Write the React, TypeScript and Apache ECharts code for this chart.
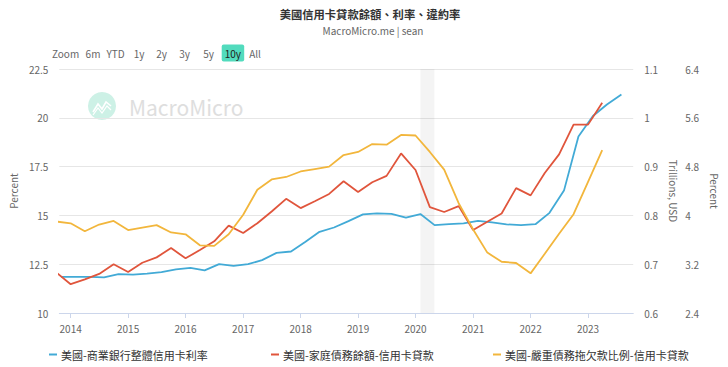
import React, { useEffect, useRef } from "react";
import * as echarts from "echarts";

const TITLE = "美國信用卡貸款餘額、利率、違約率";
const SUBTITLE = "MacroMicro.me | sean";
const WATERMARK = "MacroMicro";
const ZOOM_LABEL = "Zoom";
const RANGE_BUTTONS = ["6m", "YTD", "1y", "2y", "3y", "5y", "10y", "All"];
const SELECTED_RANGE = "10y";

const SERIES_NAMES = [
  "美國-商業銀行整體信用卡利率",
  "美國-家庭債務餘額-信用卡貸款",
  "美國-嚴重債務拖欠款比例-信用卡貸款",
];
const AXIS_NAMES = ["Percent", "Trillions, USD", "Percent"];

// Commercial bank credit card interest rate (%), Feb/May/Aug/Nov
const rateDates = [
  "2013-11-01",
  "2014-02-01", "2014-05-01", "2014-08-01", "2014-11-01",
  "2015-02-01", "2015-05-01", "2015-08-01", "2015-11-01",
  "2016-02-01", "2016-05-01", "2016-08-01", "2016-11-01",
  "2017-02-01", "2017-05-01", "2017-08-01", "2017-11-01",
  "2018-02-01", "2018-05-01", "2018-08-01", "2018-11-01",
  "2019-02-01", "2019-05-01", "2019-08-01", "2019-11-01",
  "2020-02-01", "2020-05-01", "2020-08-01", "2020-11-01",
  "2021-02-01", "2021-05-01", "2021-08-01", "2021-11-01",
  "2022-02-01", "2022-05-01", "2022-08-01", "2022-11-01",
  "2023-02-01", "2023-05-01", "2023-08-01",
];
const rateValues = [
  11.85,
  11.85, 11.85, 11.82, 11.99,
  11.97, 12.02, 12.09, 12.23,
  12.31, 12.18, 12.5, 12.41,
  12.5, 12.71, 13.08, 13.15,
  13.65, 14.16, 14.38, 14.71,
  15.05, 15.1, 15.08, 14.88,
  15.07, 14.5, 14.55, 14.59,
  14.72, 14.64, 14.54, 14.5,
  14.55, 15.13, 16.27, 19.04,
  20.09, 20.68, 21.19,
];

// Household debt: credit card balance (trillions USD) and serious delinquency (%), quarterly
const quarterDates = [
  "2013-10-01",
  "2014-01-01", "2014-04-01", "2014-07-01", "2014-10-01",
  "2015-01-01", "2015-04-01", "2015-07-01", "2015-10-01",
  "2016-01-01", "2016-04-01", "2016-07-01", "2016-10-01",
  "2017-01-01", "2017-04-01", "2017-07-01", "2017-10-01",
  "2018-01-01", "2018-04-01", "2018-07-01", "2018-10-01",
  "2019-01-01", "2019-04-01", "2019-07-01", "2019-10-01",
  "2020-01-01", "2020-04-01", "2020-07-01", "2020-10-01",
  "2021-01-01", "2021-04-01", "2021-07-01", "2021-10-01",
  "2022-01-01", "2022-04-01", "2022-07-01", "2022-10-01",
  "2023-01-01", "2023-04-01",
];
const balanceValues = [
  0.683,
  0.659, 0.669, 0.68, 0.7,
  0.684, 0.703, 0.714, 0.733,
  0.712, 0.729, 0.747, 0.779,
  0.764, 0.784, 0.808, 0.834,
  0.815, 0.829, 0.844, 0.87,
  0.848, 0.868, 0.881, 0.927,
  0.893, 0.817, 0.807, 0.819,
  0.77, 0.787, 0.804, 0.856,
  0.841, 0.887, 0.925, 0.986,
  0.986, 1.031,
];
const delinquencyValues = [
  3.9,
  3.87, 3.74, 3.85, 3.91,
  3.76, 3.8, 3.84, 3.72,
  3.69, 3.51, 3.5, 3.69,
  4.01, 4.42, 4.59, 4.63,
  4.72, 4.76, 4.8, 4.99,
  5.04, 5.17, 5.16, 5.32,
  5.31, 5.04, 4.75, 4.2,
  3.77, 3.39, 3.24, 3.22,
  3.05, 3.37, 3.7, 4.02,
  4.55, 5.07,
];

const recessionRange = ["2020-02-01", "2020-04-30"];
const xRange = ["2013-10-21", "2023-10-15"];
const leftAxis = { min: 10, max: 22.5, interval: 2.5 };
const balanceAxis = { min: 0.6, max: 1.1, interval: 0.1 };
const delinquencyAxis = { min: 2.4, max: 6.4, interval: 0.8 };

const COLORS = ["#42aad6", "#e0553c", "#f2b63c"];
const FONT = '"Noto Sans CJK TC", "Noto Sans", sans-serif';

function pair(dates: string[], values: number[]) {
  return dates.map((d, i) => [d, values[i]]);
}

export default function App() {
  const ref = useRef<HTMLDivElement>(null);
  useEffect(() => {
    const chart = echarts.init(ref.current!, null, { renderer: "svg" });
    const buttonX = [93, 115.5, 139, 161.5, 184.7, 208.5, 232.8, 255];
    const graphics: any[] = [
      {
        type: "text",
        x: 370,
        y: 14,
        style: { text: TITLE, fill: "#333", font: `bold 11.3px ${FONT}`, textAlign: "center", textVerticalAlign: "middle" },
      },
      {
        type: "text",
        x: 373,
        y: 30.5,
        style: { text: SUBTITLE, fill: "#666", font: `10px ${FONT}`, textAlign: "center", textVerticalAlign: "middle" },
      },
      {
        type: "text",
        x: 52,
        y: 53,
        style: { text: ZOOM_LABEL, fill: "#666", font: `10px ${FONT}`, textAlign: "left", textVerticalAlign: "middle" },
      },
      {
        type: "circle",
        shape: { cx: 102, cy: 106, r: 14 },
        style: { fill: "#cdf1e6" },
        silent: true,
        z: 0,
      },
      {
        type: "polyline",
        shape: { points: [[93, 112], [98, 104], [102, 109], [106, 102], [111, 106]] },
        style: { stroke: "#ffffff", lineWidth: 1.6, fill: null },
        silent: true,
        z: 1,
      },
      {
        type: "polyline",
        shape: { points: [[93, 115], [98, 108], [102, 113], [107, 106], [111, 110]] },
        style: { stroke: "#ffffff", lineWidth: 1.2, fill: null },
        silent: true,
        z: 1,
      },
      {
        type: "text",
        x: 129,
        y: 107,
        style: { text: WATERMARK, fill: "#dedede", font: `21px ${FONT}`, textAlign: "left", textVerticalAlign: "middle" },
        silent: true,
        z: 0,
      },
    ];
    RANGE_BUTTONS.forEach((label, i) => {
      const selected = label === SELECTED_RANGE;
      if (selected) {
        graphics.push({
          type: "rect",
          shape: { x: 221.7, y: 44.5, width: 22.5, height: 17, r: 2 },
          style: { fill: "#52dbbd" },
        });
      }
      graphics.push({
        type: "text",
        x: buttonX[i],
        y: 53,
        style: {
          text: label,
          fill: selected ? "#222" : "#666",
          font: `10px ${FONT}`,
          textAlign: "center",
          textVerticalAlign: "middle",
        },
      });
    });

    const axisLabelStyle = { color: "#666", fontSize: 10, fontFamily: FONT };
    const nameStyle = { color: "#666", fontSize: 10, fontFamily: FONT };

    const legendItem = (name: string, left: number) => ({
      data: [name],
      left,
      top: 349,
      padding: 0,
      icon: "rect",
      itemWidth: 8,
      itemHeight: 2,
      itemGap: 0,
      selectedMode: false,
      textStyle: { color: "#333", fontSize: 11, fontFamily: FONT, padding: [0, 0, 0, -1] },
    });

    chart.setOption({
      animation: false,
      backgroundColor: "#fff",
      textStyle: { fontFamily: FONT },
      grid: { left: 52, right: 84, top: 69, bottom: 54, containLabel: false },
      graphic: graphics,
      legend: [
        legendItem(SERIES_NAMES[0], 49),
        legendItem(SERIES_NAMES[1], 271),
        legendItem(SERIES_NAMES[2], 493),
      ],
      xAxis: {
        type: "time",
        min: xRange[0],
        max: xRange[1],
        minInterval: 365 * 24 * 3600 * 1000,
        maxInterval: 366 * 24 * 3600 * 1000,
        axisLine: { lineStyle: { color: "#ccd6eb" } },
        axisTick: { show: true, length: 5, lineStyle: { color: "#ccd6eb" } },
        axisLabel: {
          ...axisLabelStyle,
          margin: 10,
          showMinLabel: false,
          showMaxLabel: false,
          formatter: (v: number) => String(new Date(v).getFullYear()),
        },
        splitLine: { show: false },
      },
      yAxis: [
        {
          type: "value",
          position: "left",
          ...leftAxis,
          name: AXIS_NAMES[0],
          nameLocation: "middle",
          nameGap: 33,
          nameRotate: 90,
          nameTextStyle: nameStyle,
          axisLine: { show: false },
          axisTick: { show: false },
          axisLabel: { ...axisLabelStyle, margin: 11 },
          splitLine: { lineStyle: { color: "#e6e6e6" } },
        },
        {
          type: "value",
          position: "right",
          ...balanceAxis,
          name: AXIS_NAMES[1],
          nameLocation: "middle",
          nameGap: 34,
          nameRotate: -90,
          nameTextStyle: nameStyle,
          axisLine: { show: false },
          axisTick: { show: false },
          axisLabel: { ...axisLabelStyle, margin: 11 },
          splitLine: { show: false },
        },
        {
          type: "value",
          position: "right",
          offset: 41,
          ...delinquencyAxis,
          name: AXIS_NAMES[2],
          nameLocation: "middle",
          nameGap: 31,
          nameRotate: -90,
          nameTextStyle: nameStyle,
          axisLine: { show: false },
          axisTick: { show: false },
          axisLabel: { ...axisLabelStyle, margin: 11 },
          splitLine: { show: false },
        },
      ],
      series: [
        {
          name: SERIES_NAMES[0],
          type: "line",
          yAxisIndex: 0,
          data: pair(rateDates, rateValues),
          showSymbol: false,
          color: COLORS[0],
          lineStyle: { width: 1.8, color: COLORS[0] },
          z: 3,
          markArea: {
            silent: true,
            itemStyle: { color: "rgba(0,0,0,0.045)" },
            data: [[{ xAxis: recessionRange[0] }, { xAxis: recessionRange[1] }]],
          },
        },
        {
          name: SERIES_NAMES[1],
          type: "line",
          yAxisIndex: 1,
          data: pair(quarterDates, balanceValues),
          showSymbol: false,
          color: COLORS[1],
          lineStyle: { width: 1.8, color: COLORS[1] },
          z: 3,
        },
        {
          name: SERIES_NAMES[2],
          type: "line",
          yAxisIndex: 2,
          data: pair(quarterDates, delinquencyValues),
          showSymbol: false,
          color: COLORS[2],
          lineStyle: { width: 1.8, color: COLORS[2] },
          z: 3,
        },
      ],
    });
    return () => chart.dispose();
  }, []);
  return <div ref={ref} style={{ position: "absolute", left: 0, top: 0, width: 728, height: 367 }} />;
}
